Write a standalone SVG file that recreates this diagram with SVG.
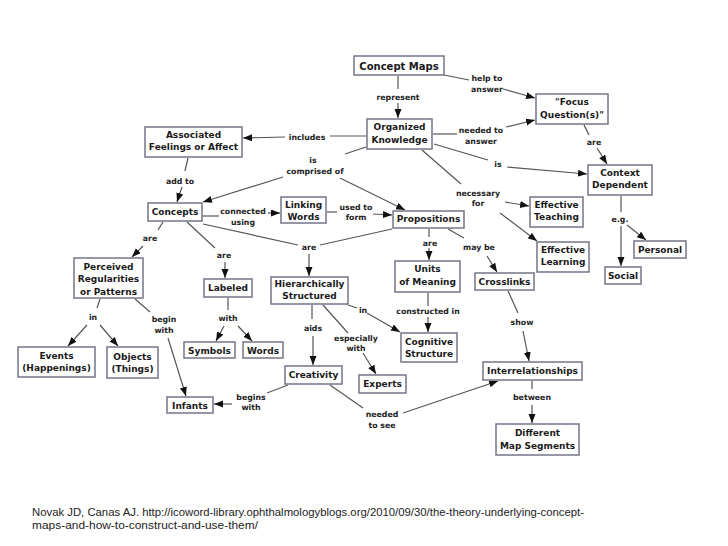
<svg xmlns="http://www.w3.org/2000/svg" width="728" height="546" viewBox="0 0 728 546">
<style>
.n rect{fill:#fff;stroke:#74748a;stroke-width:1.5}
.n text{font-family:"DejaVu Sans",Verdana,sans-serif;font-weight:bold;font-size:9px;fill:#1a1a1a;text-anchor:middle}
.l{font-family:"DejaVu Sans",Verdana,sans-serif;font-weight:bold;font-size:7.8px;fill:#222;text-anchor:middle}
#connectors path{fill:none;stroke:#555;stroke-width:1.2}
#connectors path.a{marker-end:url(#ah)}
.cap{font-family:"Liberation Sans",Arial,sans-serif;font-size:11px;fill:#222}
</style>
<defs>
<marker id="ah" markerUnits="userSpaceOnUse" markerWidth="10" markerHeight="8" refX="9" refY="3.5" orient="auto">
<path d="M0,0 L9,3.5 L0,7 z" fill="#111"/>
</marker>
</defs>
<rect width="728" height="546" fill="#fff"/>
<g id="connectors">
<path d="M444,75 L469,80"/><path class="a" d="M503,89 L535,98"/>
<path d="M398,76 L398,89"/><path class="a" d="M398,103 L398,118"/>
<path d="M433,134 L457,134"/><path class="a" d="M506,127 L535,120"/>
<path d="M584,125 L589,135"/><path class="a" d="M597,148 L607,164"/>
<path d="M434,144 L488,160"/><path class="a" d="M507,167 L587,174"/>
<path d="M366,136 L330,136"/><path class="a" d="M285,137 L243,138"/>
<path d="M366,147 L345,154"/><path class="a" d="M283,177 L203,202"/><path class="a" d="M340,178 L405,210"/>
<path d="M188,158 L185,171"/><path class="a" d="M182,187 L177,202"/>
<path d="M203,216 L219,216"/><path class="a" d="M268,213 L280,213"/>
<path d="M327,212 L337,212"/><path class="a" d="M373,214 L392,215"/>
<path d="M422,150 L461,184"/><path class="a" d="M505,202 L529,206"/><path class="a" d="M500,213 L537,241"/>
<path d="M621,196 L621,212"/><path class="a" d="M621,226 L621,266"/><path class="a" d="M627,225 L646,240"/>
<path d="M429,229 L429,237"/><path class="a" d="M429,248 L429,260"/>
<path d="M448,229 L464,238"/><path class="a" d="M487,256 L497,272"/>
<path d="M163,222 L158,230"/><path class="a" d="M143,246 L132,257"/>
<path d="M187,222 L215,248"/><path class="a" d="M225,262 L225,278"/>
<path d="M203,224 L298,245"/><path d="M392,229 L320,245"/><path class="a" d="M309,254 L309,276"/>
<path d="M100,299 L97,308"/><path class="a" d="M87,325 L68,346"/><path class="a" d="M100,325 L118,346"/>
<path d="M135,299 L150,312"/><path class="a" d="M168,338 L186,396"/>
<path d="M228,298 L228,310"/><path class="a" d="M224,326 L216,341"/><path class="a" d="M238,326 L252,341"/>
<path d="M348,305 L357,308"/><path class="a" d="M367,313 L400,332"/>
<path d="M312,305 L312,319"/><path class="a" d="M313,336 L313,365"/>
<path d="M323,305 L348,333"/><path class="a" d="M363,353 L376,374"/>
<path d="M428,293 L428,306"/><path class="a" d="M428,317 L428,332"/>
<path d="M508,291 L518,313"/><path class="a" d="M523,331 L529,361"/>
<path d="M288,385 L267,393"/><path class="a" d="M232,404 L214,404"/>
<path d="M330,385 L363,408"/><path class="a" d="M403,413 L498,381"/>
<path d="M532,381 L532,389"/><path class="a" d="M532,405 L532,423"/>
</g>
<g id="labels">
<text class="l" x="487" y="81">help to</text><text class="l" x="487" y="92">answer</text>
<text class="l" x="398" y="100">represent</text>
<text class="l" x="481" y="133">needed to</text><text class="l" x="481" y="144">answer</text>
<text class="l" x="594" y="145">are</text>
<text class="l" x="498" y="167">is</text>
<text class="l" x="307" y="140">includes</text>
<text class="l" x="313" y="163">is</text><text class="l" x="315" y="174">comprised of</text>
<text class="l" x="180" y="184">add to</text>
<text class="l" x="478" y="196">necessary</text><text class="l" x="478" y="206">for</text>
<text class="l" x="243" y="214">connected</text><text class="l" x="243" y="225">using</text>
<text class="l" x="356" y="210">used to</text><text class="l" x="356" y="220">form</text>
<text class="l" x="620" y="222">e.g.</text>
<text class="l" x="430" y="246">are</text>
<text class="l" x="479" y="250">may be</text>
<text class="l" x="150" y="241">are</text>
<text class="l" x="224" y="258">are</text>
<text class="l" x="309" y="250">are</text>
<text class="l" x="93" y="320">in</text>
<text class="l" x="164" y="322">begin</text><text class="l" x="164" y="333">with</text>
<text class="l" x="228" y="321">with</text>
<text class="l" x="313" y="331">aids</text>
<text class="l" x="356" y="341">especially</text><text class="l" x="356" y="351">with</text>
<text class="l" x="363" y="313">in</text>
<text class="l" x="428" y="314">constructed in</text>
<text class="l" x="522" y="325">show</text>
<text class="l" x="251" y="400">begins</text><text class="l" x="251" y="410">with</text>
<text class="l" x="382" y="417">needed</text><text class="l" x="382" y="428">to see</text>
<text class="l" x="532" y="400">between</text>
</g>
<g id="concept-maps" class="n"><rect x="354" y="56" width="90" height="19"/><text x="399" y="69.5" style="font-size:10px">Concept Maps</text></g>
<g id="focus-questions" class="n"><rect x="536" y="94" width="72" height="30"/><text x="572" y="105.3">"Focus</text><text x="572" y="118.3">Question(s)"</text></g>
<g id="organized-knowledge" class="n"><rect x="367" y="119" width="65" height="30"/><text x="399.5" y="130.3">Organized</text><text x="399.5" y="143.3">Knowledge</text></g>
<g id="associated-feelings" class="n"><rect x="145" y="127" width="97" height="30"/><text x="193.5" y="138.3">Associated</text><text x="193.5" y="150.3">Feelings or Affect</text></g>
<g id="context-dependent" class="n"><rect x="588" y="165" width="64" height="30"/><text x="620" y="176.3">Context</text><text x="620" y="188.3">Dependent</text></g>
<g id="concepts" class="n"><rect x="148" y="203" width="54" height="18"/><text x="175" y="215.3">Concepts</text></g>
<g id="linking-words" class="n"><rect x="281" y="197" width="45" height="26"/><text x="303.5" y="208.3">Linking</text><text x="303.5" y="220.3">Words</text></g>
<g id="propositions" class="n"><rect x="393" y="211" width="71" height="17"/><text x="428.5" y="222.3">Propositions</text></g>
<g id="effective-teaching" class="n"><rect x="530" y="197" width="53" height="30"/><text x="556.5" y="208.3">Effective</text><text x="556.5" y="220.3">Teaching</text></g>
<g id="effective-learning" class="n"><rect x="537" y="242" width="52" height="30"/><text x="563" y="253.3">Effective</text><text x="563" y="265.3">Learning</text></g>
<g id="personal" class="n"><rect x="634" y="241" width="52" height="17"/><text x="660" y="252.8">Personal</text></g>
<g id="social" class="n"><rect x="605" y="267" width="36" height="17"/><text x="623" y="278.8">Social</text></g>
<g id="perceived-regularities" class="n"><rect x="74" y="258" width="69" height="40"/><text x="108.5" y="269.5">Perceived</text><text x="108.5" y="282">Regularities</text><text x="108.5" y="294.5">or Patterns</text></g>
<g id="labeled" class="n"><rect x="204" y="279" width="48" height="18"/><text x="228" y="291.3">Labeled</text></g>
<g id="hierarchically-structured" class="n"><rect x="271" y="277" width="77" height="27"/><text x="309.5" y="287.3">Hierarchically</text><text x="309.5" y="299.3">Structured</text></g>
<g id="units-of-meaning" class="n"><rect x="395" y="261" width="65" height="31"/><text x="427.5" y="272.3">Units</text><text x="427.5" y="285.3">of Meaning</text></g>
<g id="crosslinks" class="n"><rect x="475" y="273" width="59" height="17"/><text x="504.5" y="285.3">Crosslinks</text></g>
<g id="events" class="n"><rect x="18" y="347" width="77" height="30"/><text x="56.5" y="359.3">Events</text><text x="56.5" y="371.3">(Happenings)</text></g>
<g id="objects" class="n"><rect x="107" y="347" width="51" height="31"/><text x="132.5" y="359.8">Objects</text><text x="132.5" y="372">(Things)</text></g>
<g id="symbols" class="n"><rect x="184" y="342" width="51" height="16"/><text x="209.5" y="353.8">Symbols</text></g>
<g id="words" class="n"><rect x="243" y="342" width="40" height="16"/><text x="263" y="353.8">Words</text></g>
<g id="cognitive-structure" class="n"><rect x="401" y="333" width="56" height="29"/><text x="429" y="345.3">Cognitive</text><text x="429" y="356.8">Structure</text></g>
<g id="creativity" class="n"><rect x="285" y="366" width="57" height="18"/><text x="313.5" y="378.3">Creativity</text></g>
<g id="experts" class="n"><rect x="359" y="375" width="47" height="18"/><text x="382.5" y="387.3">Experts</text></g>
<g id="interrelationships" class="n"><rect x="483" y="362" width="99" height="18"/><text x="532.5" y="374.3">Interrelationships</text></g>
<g id="infants" class="n"><rect x="167" y="397" width="46" height="16"/><text x="190" y="408.8">Infants</text></g>
<g id="different-map-segments" class="n"><rect x="496" y="424" width="83" height="31"/><text x="537.5" y="436.3">Different</text><text x="537.5" y="449.3">Map Segments</text></g>
<text class="cap" x="32" y="516" textLength="552" lengthAdjust="spacingAndGlyphs">Novak JD, Canas AJ. http://icoword-library.ophthalmologyblogs.org/2010/09/30/the-theory-underlying-concept-</text>
<text class="cap" x="32" y="529" textLength="226" lengthAdjust="spacingAndGlyphs">maps-and-how-to-construct-and-use-them/</text>
</svg>
